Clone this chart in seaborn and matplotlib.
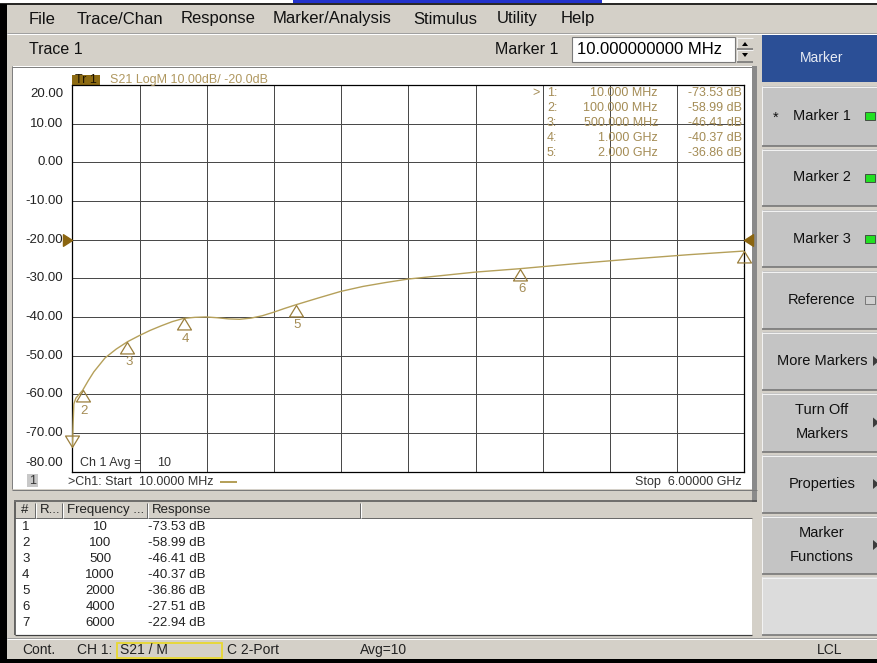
import numpy as np
import matplotlib
matplotlib.use("Agg")
import matplotlib.pyplot as plt
from matplotlib.patches import Rectangle, Polygon
from matplotlib.lines import Line2D
from matplotlib.path import Path
import seaborn as sns

# ---- measured S21 trace (frequency in MHz, magnitude in dB) ----
trace_mhz = [10, 15, 22, 40, 70, 100, 150, 200, 300, 400, 500, 600, 700, 800,
             900, 1000, 1100, 1200, 1300, 1400, 1500, 1600, 1700, 1800, 1900,
             2000, 2200, 2400, 2600, 2800, 3000, 3300, 3600, 4000, 4500, 5000,
             5500, 6000]
trace_db = [-73.53, -68.0, -62.5, -61.0, -60.0, -58.99, -56.5, -54.2, -50.6,
            -48.3, -46.41, -44.9, -43.5, -42.3, -41.2, -40.37, -40.1, -40.0,
            -40.2, -40.5, -40.6, -40.3, -39.7, -38.8, -37.8, -36.86, -35.1,
            -33.4, -32.1, -31.1, -30.2, -29.3, -28.4, -27.51, -26.2, -25.0,
            -23.9, -22.94]

# ---- markers ----
marker_num = [1, 2, 3, 4, 5, 6, 7]
marker_mhz = [10, 100, 500, 1000, 2000, 4000, 6000]
marker_db = [-73.53, -58.99, -46.41, -40.37, -36.86, -27.51, -22.94]

# ---- scale / sweep settings ----
ref_level = -20.0
start_mhz, stop_mhz = 10, 6000
y_ticks = [20, 10, 0, -10, -20, -30, -40, -50, -60, -70, -80]

menu_items = ["File", "Trace/Chan", "Response", "Marker/Analysis", "Stimulus",
              "Utility", "Help"]
softkeys = ["Marker 1", "Marker 2", "Marker 3", "Reference", "More Markers",
            "Turn Off\nMarkers", "Properties", "Marker\nFunctions"]

sns.set_style("white")
plt.rcParams["font.family"] = ["Liberation Sans", "DejaVu Sans"]

W, H = 878, 663
fig = plt.figure(figsize=(W / 100, H / 100), dpi=100)
fig.patch.set_facecolor("#d4d0c8")

UI = "#d4d0c8"
BTN = "#c4c4c4"
TRACE = "#b5a05a"
MKEDGE = "#9a7e3c"
MKTXT = "#a48c55"
REFC = "#8b6510"
DARK = "#808080"


def fx(x):
    return x / W


def fy(y):
    return 1 - y / H


def box(x0, y0, x1, y1, fc, ec="none", lw=0.0, z=1):
    fig.add_artist(Rectangle((fx(x0), fy(y1)), (x1 - x0) / W, (y1 - y0) / H,
                             transform=fig.transFigure, facecolor=fc,
                             edgecolor=ec, linewidth=lw, zorder=z))


def hline(x0, x1, y, c, lw=1.0, z=2):
    fig.add_artist(Line2D([fx(x0), fx(x1)], [fy(y), fy(y)],
                          transform=fig.transFigure, color=c,
                          lw=lw * 0.72, zorder=z, solid_capstyle="butt"))


def vline(x, y0, y1, c, lw=1.0, z=2):
    fig.add_artist(Line2D([fx(x), fx(x)], [fy(y0), fy(y1)],
                          transform=fig.transFigure, color=c,
                          lw=lw * 0.72, zorder=z, solid_capstyle="butt"))


def tri(pts, c, z=3):
    fig.add_artist(Polygon([(fx(px), fy(py)) for px, py in pts], closed=True,
                           transform=fig.transFigure, facecolor=c,
                           edgecolor="none", zorder=z))


def label(x, y, s, size, color="#000000", ha="left", va="center", z=20, **kw):
    fig.text(fx(x), fy(y), s, fontsize=size, color=color, ha=ha, va=va,
             zorder=z, **kw)


def bevel(x0, y0, x1, y1, fc):
    box(x0, y0, x1, y1, fc)
    hline(x0, x1, y0 + 0.5, "#f2f2f2")
    vline(x0 + 0.5, y0, y1, "#f2f2f2")
    hline(x0, x1, y1 - 0.5, "#6e6e6e", lw=1.5)


# ---- window frame ----
box(0, 0, W, 3, "#ffffff")
box(293, 0, 602, 2.5, "#2233cc", z=2)
hline(0, W, 3.8, "#000000", lw=1.6)
box(0, 4, 7, H, "#000000", z=5)
box(0, 659, W, H, "#000000", z=5)

# ---- menu bar ----
menu_x = [29, 77, 181, 273, 413, 497, 561]
for mx, item in zip(menu_x, menu_items):
    label(mx, 19, item, 12, "#111111")
hline(7, W, 32.5, "#a0a0a0")
hline(7, W, 33.5, "#ffffff")

# ---- trace title bar ----
label(29, 50, "Trace 1", 11.5, "#111111")
label(558, 49, "Marker 1", 11.5, "#111111", ha="right")
box(572, 37, 735, 62, "#ffffff", ec="#7a7a7a", lw=0.8)
label(577, 50, "10.000000000 MHz", 12, "#000000")
bevel(737, 37, 753, 49.5, UI)
bevel(737, 49.5, 753, 62, UI)
tri([(742, 46), (748, 46), (745, 42)], "#000000", z=4)
tri([(742, 53), (748, 53), (745, 57)], "#000000", z=4)

# ---- chart panel ----
box(13, 66, 752, 489, "#ffffff")
hline(12, 755, 66.5, DARK)
vline(12.5, 66, 489, DARK)
box(752, 66, 757, 502, "#8a8a8a", z=2)
box(7, 489, 757, 502, UI)
hline(12, 757, 490, "#7a7a7a")
hline(14, 757, 501, "#505050", lw=1.5)

# ---- right softkey panel ----
box(757, 33, W, 637, UI)
box(762, 34, W, 82, "#2b4f96")
label(822, 58, "Marker", 10, "#e8ecf4", ha="center")
key_y = [(86, 146), (149, 206), (210, 267), (271, 329), (332, 390),
         (393, 452), (455, 513), (516, 574)]
for (y0, y1), key in zip(key_y, softkeys):
    bevel(762, y0, W, y1, BTN)
    yc = (y0 + y1) / 2
    if "\n" in key:
        a, b = key.split("\n")
        label(822, yc - 12, a, 10.5, "#111111", ha="center")
        label(822, yc + 12, b, 10.5, "#111111", ha="center")
    else:
        label(822, yc, key, 10.5, "#111111", ha="center")
    if key.startswith("Marker "):
        box(865, yc - 4, 875, yc + 4, "#22e022", ec="#3a3a3a", lw=0.6, z=4)
    elif key == "Reference":
        box(865, yc - 4, 875, yc + 4, "#d0d0d0", ec="#6a6a6a", lw=0.6, z=4)
    else:
        tri([(873, yc - 5), (873, yc + 5), (879, yc)], "#3c3c3c", z=4)
label(776, 118, "*", 10.5, "#111111", ha="center")
bevel(762, 577, W, 635, "#dcdcdc")

# ---- marker table ----
box(15, 502, 752, 635, "#ffffff")
box(15, 502, 752, 518, UI)
hline(15, 752, 518, "#6a6a6a")
for sx in [35, 62, 147, 360]:
    vline(sx, 503, 518, "#6a6a6a")
    vline(sx + 1, 503, 518, "#ffffff")
vline(15, 502, 635, "#404040", lw=1.5)
hline(15, 752, 635, "#404040", lw=1.2)
label(25, 510, "#", 9.5, "#222222", ha="center")
label(40, 510, "R...", 9.5, "#222222")
label(67, 510, "Frequency ...", 9.5, "#222222")
label(152, 510, "Response", 9.5, "#222222")
for i, (n, f, v) in enumerate(zip(marker_num, marker_mhz, marker_db)):
    yy = 527 + i * 15.95
    label(22, yy, str(n), 9.5, "#222222")
    label(100, yy, f"{f}", 9.5, "#222222", ha="center")
    label(148, yy, f"{v:.2f} dB", 9.5, "#222222")

# ---- status bar ----
hline(7, W, 637.5, "#9a9a9a")
hline(7, W, 638.5, "#ffffff")
label(22, 650, "Cont.", 10, "#222222")
label(77, 650, "CH 1:", 10, "#222222")
box(117, 643, 222, 657.5, UI, ec="#e8d830", lw=1.3, z=3)
label(120, 650, "S21 / M", 10, "#222222")
label(227, 650, "C 2-Port", 10, "#222222")
label(360, 650, "Avg=10", 10, "#222222")
label(830, 650, "LCL", 10, "#222222", ha="center")

# ---- measurement plot ----
x0, x1, y0, y1 = 72.5, 744.5, 85.0, 471.6
ax = fig.add_axes([fx(x0), fy(y1), (x1 - x0) / W, (y1 - y0) / H])
ax.set_zorder(10)
ax.set_facecolor("#ffffff")
ax.set_xlim(start_mhz, stop_mhz)
ax.set_ylim(-80, 20)
ax.set_xticks(np.linspace(start_mhz, stop_mhz, 11))
ax.set_yticks(y_ticks)
ax.tick_params(length=0, labelbottom=False, labelleft=False)
ax.grid(True, color="#4a4a4a", lw=0.72)
for sp in ax.spines.values():
    sp.set_color("#000000")
    sp.set_linewidth(0.9)

sns.lineplot(x=trace_mhz, y=trace_db, ax=ax, color=TRACE, lw=1.0,
             estimator=None, sort=False, zorder=3)

ytrans = ax.get_yaxis_transform()
px_db = (y1 - y0) / 100.0
for v in y_ticks:
    yv = v
    if v == y_ticks[0]:
        yv = v - 9 / px_db
    elif v == y_ticks[-1]:
        yv = v + 8.6 / px_db
    ax.text(-9.5 / (x1 - x0), yv, f"{v:.2f}", transform=ytrans, ha="right",
            va="center", fontsize=9.5, color="#222222", clip_on=False)

# marker glyphs: apex sits on the measured point
up_tri = Path([(0, 0), (-7, -11.5), (7, -11.5), (0, 0)],
              [Path.MOVETO, Path.LINETO, Path.LINETO, Path.CLOSEPOLY])
down_tri = Path([(0, 0), (-7, 11.5), (7, 11.5), (0, 0)],
                [Path.MOVETO, Path.LINETO, Path.LINETO, Path.CLOSEPOLY])
ax.plot(marker_mhz[1:], marker_db[1:], ls="none", marker=up_tri, ms=16.5,
        mfc="none", mec=MKEDGE, mew=0.9, clip_on=False, zorder=4)
ax.plot(marker_mhz[:1], marker_db[:1], ls="none", marker=down_tri, ms=16.5,
        mfc="none", mec=MKEDGE, mew=0.9, clip_on=False, zorder=4)
for n, f, v in zip(marker_num[1:], marker_mhz[1:], marker_db[1:]):
    t = ax.annotate(str(n), (f, v), xytext=(1.2, -14.8),
                    textcoords="offset points", ha="center", va="center",
                    fontsize=9.5, color=MKTXT, annotation_clip=False)
    t.set_clip_path(ax.patch)
    t.set_clip_on(True)

# reference-level arrows on both edges
ref_right = Path([(0, 0), (-7, 4.5), (-7, -4.5), (0, 0)],
                 [Path.MOVETO, Path.LINETO, Path.LINETO, Path.CLOSEPOLY])
ref_left = Path([(0, 0), (7, 4.5), (7, -4.5), (0, 0)],
                [Path.MOVETO, Path.LINETO, Path.LINETO, Path.CLOSEPOLY])
ax.plot([start_mhz], [ref_level], ls="none", marker=ref_right, ms=13,
        color=REFC, clip_on=False, zorder=5)
ax.plot([stop_mhz], [ref_level], ls="none", marker=ref_left, ms=13,
        color=REFC, clip_on=False, zorder=5)

# trace header above the grid
box(72, 75, 100, 85.5, "#8c6a12", z=3)
label(75, 80, "Tr 1", 9, "#1e1400")
label(110, 79.5, f"S21 LogM 10.00dB/ {ref_level:.1f}dB", 9, "#b09860")

# marker readout block
for i in range(5):
    yy = 93 + i * 15
    f = marker_mhz[i]
    ftxt = f"{f:.3f} MHz" if f < 1000 else f"{f / 1000:.3f} GHz"
    if i == 0:
        label(540, yy, ">", 9, MKTXT, ha="right")
    label(547, yy, f"{marker_num[i]}:", 9, MKTXT)
    label(658, yy, ftxt, 9, MKTXT, ha="right")
    label(742, yy, f"{marker_db[i]:.2f} dB", 9, MKTXT, ha="right")

# channel annotations
label(80, 463, "Ch 1 Avg =", 9, "#333333")
label(157, 463, "10", 9, "#333333")
box(27, 474, 38, 487, "#c8c8c8", z=3)
label(32.5, 480.5, "1", 9, "#333333", ha="center")
label(68, 482, ">Ch1: Start  10.0000 MHz", 9, "#333333")
hline(220, 237, 482, TRACE, lw=2)
label(742, 482, "Stop  6.00000 GHz", 9, "#333333", ha="right")

fig.savefig("out.png", dpi=100)
